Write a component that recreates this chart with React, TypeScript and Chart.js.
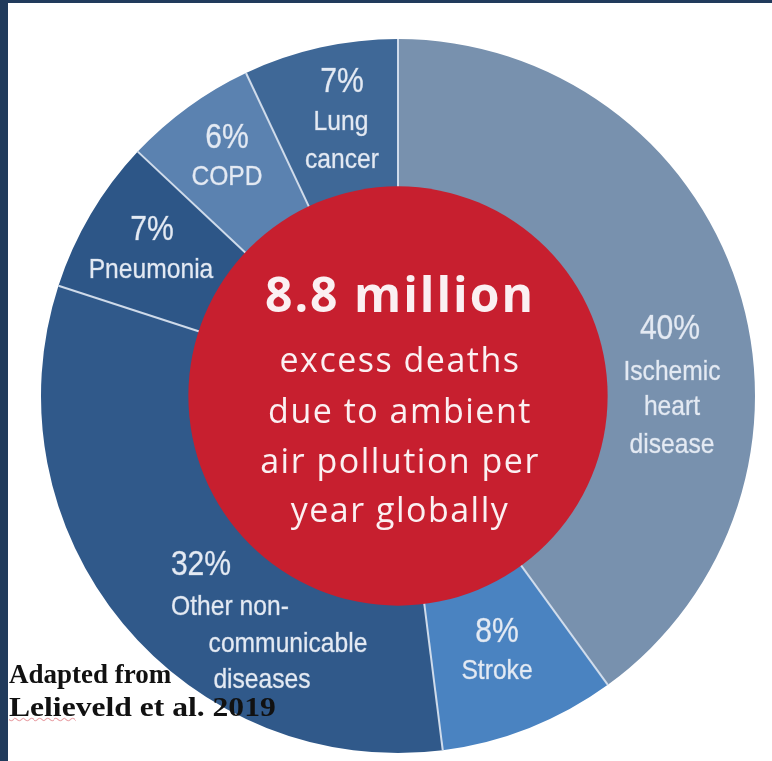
import React, { useEffect, useRef } from "react";
import { Chart, registerables } from "chart.js";

Chart.register(...registerables);

// ---- data ----
const categories = [
  "Ischemic heart disease",
  "Stroke",
  "Other non-communicable diseases",
  "Pneumonia",
  "COPD",
  "Lung cancer",
];
const shares = [40, 8, 32, 7, 6, 7];
const percentLabels = ["40%", "8%", "32%", "7%", "6%", "7%"];
const nameLines = [
  ["Ischemic", "heart", "disease"],
  ["Stroke"],
  ["Other non-", "communicable", "diseases"],
  ["Pneumonia"],
  ["COPD"],
  ["Lung", "cancer"],
];
const centerHeadline = "8.8 million";
const centerLines = ["excess deaths", "due to ambient", "air pollution per", "year globally"];
const sourceLead = "Adapted from";
const sourceAuthorA = "Lelie";
const sourceAuthorB = "veld";
const sourceRest = " et al. 2019";

// ---- style ----
const sliceColors = ["#7891ae", "#4a83c1", "#30598a", "#2d5687", "#5b82b0", "#3f6897"];
const pageNavy = "#213b5c";
const centerRed = "#c71f2f";
const separatorColor = "rgba(214,224,238,0.95)";
const REF_R = 357;
// per slice: [dx, baselineDy] for percent line then each name line, in px at REF_R
const labelLayout = [
  [[272, -57], [274, -16], [274, 19], [274, 57]],
  [[99, 246], [99, 283]],
  [[-197, 179], [-168, 219], [-110, 256], [-136, 292]],
  [[-246, -156], [-247, -118]],
  [[-171, -248], [-171, -211]],
  [[-56, -304], [-57, -266], [-56, -228]],
];
const centerLayout = { headline: -84, lines: [-24, 27, 77, 126], dx: 2 };

const overlayPlugin = {
  id: "overlay",
  afterDatasetsDraw(chart: any) {
    const ctx: CanvasRenderingContext2D = chart.ctx;
    const elements = chart.getDatasetMeta(0).data;
    const arc = elements[0];
    const { x, y, innerRadius, outerRadius } = arc.getProps(
      ["x", "y", "innerRadius", "outerRadius"],
      true
    );
    const k = outerRadius / REF_R;
    ctx.save();

    // separators between slices
    ctx.strokeStyle = separatorColor;
    ctx.lineWidth = 2;
    elements.forEach((el: any) => {
      const a = el.getProps(["startAngle"], true).startAngle;
      ctx.beginPath();
      ctx.moveTo(x + Math.cos(a) * innerRadius, y + Math.sin(a) * innerRadius);
      ctx.lineTo(x + Math.cos(a) * outerRadius, y + Math.sin(a) * outerRadius);
      ctx.stroke();
    });

    // red centre disc
    ctx.beginPath();
    ctx.arc(x, y, innerRadius + 1.5, 0, Math.PI * 2);
    ctx.fillStyle = centerRed;
    ctx.fill();

    // centre text
    ctx.textAlign = "center";
    ctx.textBaseline = "alphabetic";
    ctx.fillStyle = "#fbf0f2";
    (ctx as any).letterSpacing = "2px";
    ctx.font = "bold 48px 'Open Sans', sans-serif";
    ctx.fillText(centerHeadline, x + centerLayout.dx * k, y + centerLayout.headline * k);
    (ctx as any).letterSpacing = "1.5px";
    ctx.font = "34px 'Open Sans', sans-serif";
    centerLines.forEach((t, i) => {
      ctx.fillText(t, x + centerLayout.dx * k, y + centerLayout.lines[i] * k);
    });
    (ctx as any).letterSpacing = "0px";

    // slice labels
    ctx.fillStyle = "#e4eaf3";
    ctx.strokeStyle = "rgba(228,234,243,0.5)";
    ctx.lineWidth = 0.6;
    percentLabels.forEach((p, i) => {
      const lines = [p, ...nameLines[i]];
      lines.forEach((t, j) => {
        const [dx, dy] = labelLayout[i][j];
        ctx.save();
        ctx.translate(x + dx * k, y + dy * k);
        if (j === 0) {
          ctx.font = "35px 'Liberation Sans', Arial, sans-serif";
          ctx.scale(0.86, 1);
        } else {
          ctx.font = "28px 'Liberation Sans', Arial, sans-serif";
          ctx.scale(0.88, 1);
        }
        ctx.fillText(t, 0, 0);
        ctx.strokeText(t, 0, 0);
        ctx.restore();
      });
    });
    ctx.restore();
  },
};

export default function App() {
  const canvasRef = useRef<HTMLCanvasElement | null>(null);

  useEffect(() => {
    if (!canvasRef.current) return;
    const chart = new Chart(canvasRef.current, {
      type: "doughnut",
      data: {
        labels: categories,
        datasets: [
          {
            data: shares,
            backgroundColor: sliceColors,
            borderWidth: 0,
          },
        ],
      },
      options: {
        responsive: false,
        maintainAspectRatio: false,
        animation: false,
        cutout: "58.3%",
        rotation: 0,
        layout: { padding: { left: 41, top: 39, right: 17, bottom: 8 } },
        plugins: {
          legend: { display: false },
          tooltip: { enabled: false },
        },
      },
      plugins: [overlayPlugin],
    });
    return () => chart.destroy();
  }, []);

  return (
    <div
      style={{
        position: "fixed",
        left: 0,
        top: 0,
        width: 772,
        height: 761,
        background: pageNavy,
        overflow: "hidden",
      }}
    >
      <div
        style={{ position: "absolute", left: 8, top: 3, right: 0, bottom: 0, background: "#ffffff" }}
      />
      <canvas
        ref={canvasRef}
        width={772}
        height={761}
        style={{ position: "absolute", left: 0, top: 0, width: 772, height: 761 }}
      />
      <div
        style={{
          position: "absolute",
          left: 9,
          top: 658,
          font: "bold 27px 'Liberation Serif', 'Times New Roman', serif",
          lineHeight: "33px",
          color: "#111",
          whiteSpace: "nowrap",
        }}
      >
        <div>{sourceLead}</div>
        <div style={{ transform: "scaleX(1.17)", transformOrigin: "left center" }}>
          <span
            style={{
              textDecorationLine: "underline",
              textDecorationStyle: "wavy",
              textDecorationColor: "#e9a3a8",
              textDecorationThickness: "1px",
            }}
          >
            {sourceAuthorA}
          </span>
          {sourceAuthorB}
          {sourceRest}
        </div>
      </div>
    </div>
  );
}
